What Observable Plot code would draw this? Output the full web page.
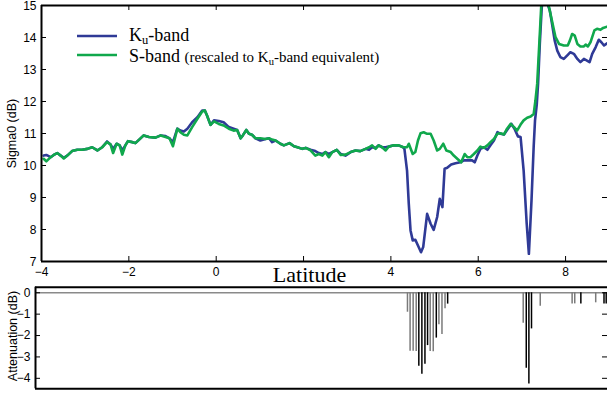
<!DOCTYPE html>
<html>
<head>
<meta charset="utf-8">
<script src="https://cdn.jsdelivr.net/npm/d3@7"></script>
<script src="https://cdn.jsdelivr.net/npm/@observablehq/plot@0.6"></script>
<style>
  body { margin: 0; background: #fff; }
  #wrap { position: relative; width: 607px; height: 396px; overflow: hidden; background: #fff; }
  #wrap svg { overflow: visible; }
  #topPanel { position: absolute; left: 0; top: 0; }
  #botPanel { position: absolute; left: 0; top: 282px; }
  #legend { position: absolute; left: 0; top: 0; }
</style>
</head>
<body>
<div id="wrap">
  <div id="topPanel"></div>
  <div id="botPanel"></div>
  <svg id="legend" width="400" height="75" font-family="Liberation Serif, Times New Roman, serif">
    <line x1="77" x2="117" y1="36" y2="36" stroke="#2f3a96" stroke-width="2.6"></line>
    <text x="129" y="40.5" font-size="18">K<tspan font-size="12.5" dy="3.5">u</tspan><tspan dy="-3.5">-band</tspan></text>
    <line x1="77" x2="117" y1="55" y2="55" stroke="#10a84c" stroke-width="2.6"></line>
    <text x="129" y="61.5" font-size="18">S-band <tspan font-size="15">(rescaled to K<tspan font-size="10.5" dy="3">u</tspan><tspan dy="-3">-band equivalent)</tspan></tspan></text>
  </svg>
</div>
<script>
// ---------------- data ----------------
const kuLat = [-3.95,-3.89,-3.79,-3.72,-3.64,-3.56,-3.49,-3.41,-3.30,-3.18,-3.07,-2.95,-2.84,-2.72,-2.61,-2.50,-2.42,-2.36,-2.28,-2.21,-2.15,-2.08,-2.02,-1.92,-1.85,-1.77,-1.66,-1.54,-1.39,-1.27,-1.16,-1.07,-0.99,-0.89,-0.82,-0.74,-0.66,-0.55,-0.43,-0.32,-0.26,-0.21,-0.13,-0.05,0.06,0.17,0.29,0.40,0.48,0.56,0.61,0.69,0.75,0.82,0.90,1.01,1.13,1.21,1.28,1.36,1.47,1.55,1.68,1.78,1.86,1.97,2.05,2.16,2.27,2.35,2.43,2.50,2.58,2.66,2.76,2.85,2.96,3.08,3.19,3.30,3.42,3.50,3.57,3.65,3.72,3.80,3.88,3.95,4.07,4.18,4.28,4.31,4.37,4.41,4.45,4.50,4.56,4.62,4.69,4.74,4.83,4.91,4.98,5.06,5.12,5.18,5.23,5.29,5.38,5.48,5.59,5.67,5.75,5.86,5.92,5.98,6.05,6.13,6.21,6.28,6.36,6.44,6.51,6.59,6.68,6.76,6.83,6.91,6.97,7.04,7.11,7.16,7.22,7.27,7.30,7.34,7.37,7.41,7.45,7.49,7.53,7.56,7.64,7.69,7.75,7.81,7.88,7.96,8.04,8.11,8.19,8.27,8.34,8.42,8.49,8.55,8.61,8.69,8.76,8.82,8.88,8.95];
const kuSigma = [10.31,10.33,10.26,10.33,10.39,10.31,10.24,10.31,10.45,10.49,10.49,10.52,10.57,10.47,10.57,10.75,10.66,10.52,10.68,10.63,10.47,10.63,10.76,10.73,10.70,10.80,10.94,10.89,10.87,10.94,10.92,10.85,10.73,11.15,11.09,11.06,11.15,11.35,11.51,11.72,11.72,11.56,11.27,11.41,11.39,11.35,11.20,11.15,11.11,10.85,10.94,11.11,10.99,10.96,10.85,10.78,10.83,10.85,10.73,10.78,10.68,10.63,10.70,10.60,10.57,10.52,10.55,10.49,10.45,10.39,10.36,10.42,10.36,10.42,10.49,10.36,10.31,10.42,10.47,10.45,10.52,10.49,10.57,10.55,10.63,10.57,10.57,10.59,10.63,10.63,10.57,10.52,9.84,8.80,7.97,7.66,7.68,7.50,7.29,7.45,8.49,8.18,7.99,8.39,8.96,8.70,9.90,9.93,10.03,10.07,10.10,10.16,10.16,10.16,10.10,10.31,10.52,10.57,10.49,10.63,10.78,11.04,10.99,10.97,11.15,11.30,11.15,10.91,10.89,9.84,8.18,7.24,8.91,10.60,11.40,11.90,12.55,13.80,14.84,15.60,15.60,15.16,14.84,14.43,13.91,13.59,13.39,13.33,13.44,13.54,13.49,13.33,13.23,13.33,13.28,13.23,13.49,13.70,13.93,13.85,13.75,13.82];

const sLat = [-3.95,-3.89,-3.79,-3.72,-3.64,-3.56,-3.49,-3.41,-3.30,-3.18,-3.07,-2.95,-2.84,-2.72,-2.61,-2.50,-2.42,-2.36,-2.28,-2.21,-2.15,-2.08,-2.02,-1.92,-1.85,-1.77,-1.66,-1.54,-1.39,-1.27,-1.16,-1.07,-0.99,-0.89,-0.82,-0.74,-0.66,-0.55,-0.43,-0.32,-0.26,-0.21,-0.13,-0.05,0.06,0.17,0.29,0.40,0.48,0.56,0.61,0.69,0.75,0.82,0.90,1.01,1.13,1.21,1.28,1.36,1.47,1.55,1.68,1.78,1.86,1.97,2.05,2.16,2.27,2.35,2.43,2.50,2.58,2.66,2.76,2.85,2.96,3.08,3.19,3.30,3.42,3.50,3.57,3.65,3.72,3.80,3.88,3.95,4.07,4.18,4.28,4.37,4.41,4.50,4.56,4.62,4.68,4.75,4.83,4.91,4.98,5.06,5.12,5.20,5.27,5.37,5.44,5.52,5.61,5.69,5.75,5.82,5.90,5.98,6.05,6.13,6.21,6.28,6.36,6.44,6.51,6.59,6.66,6.74,6.82,6.89,6.97,7.04,7.12,7.20,7.27,7.31,7.35,7.39,7.43,7.45,7.49,7.55,7.58,7.62,7.67,7.72,7.77,7.85,7.96,8.05,8.10,8.15,8.21,8.27,8.34,8.42,8.46,8.51,8.57,8.66,8.72,8.80,8.86,8.95];
const sSigma = [10.21,10.13,10.26,10.33,10.39,10.31,10.22,10.31,10.45,10.49,10.49,10.52,10.57,10.47,10.57,10.73,10.66,10.39,10.68,10.63,10.34,10.63,10.76,10.73,10.70,10.80,10.94,10.89,10.87,10.94,10.89,10.85,10.60,11.15,11.04,10.96,10.94,11.20,11.46,11.69,11.72,11.56,11.27,11.38,11.30,11.25,11.15,11.09,11.11,10.85,10.94,11.11,10.99,10.96,10.85,10.85,10.83,10.85,10.81,10.78,10.68,10.63,10.70,10.60,10.57,10.52,10.55,10.47,10.31,10.36,10.31,10.42,10.26,10.42,10.49,10.33,10.34,10.42,10.47,10.45,10.52,10.57,10.63,10.52,10.63,10.57,10.47,10.59,10.63,10.63,10.57,10.57,10.68,10.36,10.42,10.78,11.01,11.04,10.99,10.99,10.78,10.47,10.52,10.68,10.47,10.42,10.31,10.21,10.10,10.36,10.26,10.26,10.36,10.47,10.59,10.55,10.63,10.73,10.83,10.99,11.01,10.97,11.15,11.30,11.20,11.09,11.28,11.41,11.49,11.53,11.61,12.03,12.55,13.59,14.64,15.20,15.60,15.60,15.16,14.95,14.64,14.32,14.01,13.80,13.75,13.75,13.91,14.11,14.06,13.80,13.72,13.72,13.78,13.72,13.85,14.22,14.27,14.24,14.30,14.34];

const barLat  = [4.38,4.44,4.51,4.58,4.64,4.71,4.78,4.84,4.90,4.97,5.04,5.10,5.17,5.24,5.30,7.03,7.10,7.16,7.22,7.42,8.15,8.21,8.35,8.69,8.88,8.93];
const barAtt  = [-0.91,-2.73,-2.73,-2.75,-3.44,-3.81,-3.34,-2.47,-2.75,-2.76,-2.12,-1.50,-1.95,-0.75,-0.53,-1.42,-3.53,-4.26,-1.69,-0.63,-0.52,-0.52,-0.52,-0.47,-0.52,-0.52];
const barType = ["g","g","g","g","k","k","k","k","g","g","k","g","g","g","k","g","k","k","k","g","g","g","k","g","k","k"];

const xTicks = [-4, -2, 0, 2, 4, 6, 8];
const xTickLabels = [-4, -2, 0, 4, 6, 8];
const yTicksTop = [7, 8, 9, 10, 11, 12, 13, 14, 15];
const yTicksBottom = [0, -1, -2, -3, -4];

// ---------------- build ----------------
const kuRows = kuLat.map((lat, i) => ({lat, v: kuSigma[i]}));
const sRows = sLat.map((lat, i) => ({lat, v: sSigma[i]}));
const barRows = barLat.map((lat, i) => ({lat, att: barAtt[i], type: barType[i]}));

const fmt = d => (d < 0 ? "\u2212" + Math.abs(d) : String(d));
const BLUE = "#2f3a96", GREEN = "#10a84c";
const plotStyle = {fontFamily: "Liberation Sans, Arial, sans-serif", fontSize: "12px", color: "#000", background: "transparent", overflow: "visible"};

const W = 607;
const T = {h: 282, mt: 5, mb: 21, ml: 41, mr: 0};
const tFW = W - T.ml - T.mr, tFH = T.h - T.mt - T.mb;
const xDomTop = [-4, 8.96], yDomTop = [7, 15];

const topChart = Plot.plot({
  width: W, height: T.h,
  marginTop: T.mt, marginBottom: T.mb, marginLeft: T.ml, marginRight: T.mr,
  x: {domain: xDomTop, label: null, axis: null},
  y: {domain: yDomTop, label: null, axis: null},
  style: plotStyle,
  marks: [
    Plot.line(kuRows, {x: "lat", y: "v", stroke: BLUE, strokeWidth: 2.6, clip: true, strokeLinejoin: "round"}),
    Plot.line(sRows, {x: "lat", y: "v", stroke: GREEN, strokeWidth: 2.6, clip: true, strokeLinejoin: "round"}),
    Plot.ruleX(xTicks, {x: d => d, insetTop: tFH - 5, stroke: "#000", strokeWidth: 1}),
    Plot.ruleX(xTicks, {x: d => d, insetBottom: tFH - 5, stroke: "#000", strokeWidth: 1}),
    Plot.ruleY(yTicksTop, {y: d => d, insetRight: tFW - 5, stroke: "#000", strokeWidth: 1}),
    Plot.ruleY(yTicksTop, {y: d => d, insetLeft: tFW - 5, stroke: "#000", strokeWidth: 1}),
    Plot.ruleX([xDomTop[0]], {x: d => d, stroke: "#000", strokeWidth: 2}),
    Plot.ruleY(yDomTop, {y: d => d, stroke: "#000", strokeWidth: 2}),
    Plot.axisX({ticks: xTickLabels, tickSize: 0, tickPadding: 6, tickFormat: fmt, fontSize: 12}),
    Plot.axisY({ticks: yTicksTop, tickSize: 0, tickPadding: 5, tickFormat: fmt, fontSize: 12, dy: 1}),
    Plot.text(["Sigma0 (dB)"], {text: d => d, frameAnchor: "left", textAnchor: "middle", dx: -30, rotate: -90, fontSize: 12.5}),
    Plot.text(["Latitude"], {text: d => d, frameAnchor: "bottom", textAnchor: "middle", dx: -15, dy: 20, lineAnchor: "bottom",
      fontFamily: "Liberation Serif, Times New Roman, serif", fontSize: 22})
  ]
});
document.getElementById("topPanel").appendChild(topChart);

const B = {h: 114, mt: 4.7, mb: 7.7, ml: 35, mr: 0};
const bFW = W - B.ml - B.mr, bFH = B.h - B.mt - B.mb;
const xDomBot = [-4.137, 8.96], yDomBot = [-4.49, 0.26];

const botChart = Plot.plot({
  width: W, height: B.h,
  marginTop: B.mt, marginBottom: B.mb, marginLeft: B.ml, marginRight: B.mr,
  x: {domain: xDomBot, label: null, axis: null},
  y: {domain: yDomBot, label: null, axis: null},
  color: {domain: ["g", "k"], range: ["#7a7a7a", "#000000"]},
  style: plotStyle,
  marks: [
    Plot.ruleY([0], {y: d => d, stroke: "#8a8a8a", strokeWidth: 1.3}),
    Plot.ruleX(barRows, {x: "lat", y1: 0, y2: "att", stroke: "type", strokeWidth: 1.5}),
    Plot.ruleY(yTicksBottom, {y: d => d, insetRight: bFW - 5, stroke: "#000", strokeWidth: 1}),
    Plot.ruleY(yTicksBottom, {y: d => d, insetLeft: bFW - 5, stroke: "#000", strokeWidth: 1}),
    Plot.ruleX([xDomBot[0]], {x: d => d, stroke: "#000", strokeWidth: 2}),
    Plot.ruleY(yDomBot, {y: d => d, stroke: "#000", strokeWidth: 2}),
    Plot.axisY({ticks: yTicksBottom, tickSize: 0, tickPadding: 5, tickFormat: fmt, fontSize: 12}),
    Plot.text(["Attenuation (dB)"], {text: d => d, frameAnchor: "left", textAnchor: "middle", dx: -23, dy: -2, rotate: -90, fontSize: 12.5})
  ]
});
document.getElementById("botPanel").appendChild(botChart);
</script>
</body>
</html>
